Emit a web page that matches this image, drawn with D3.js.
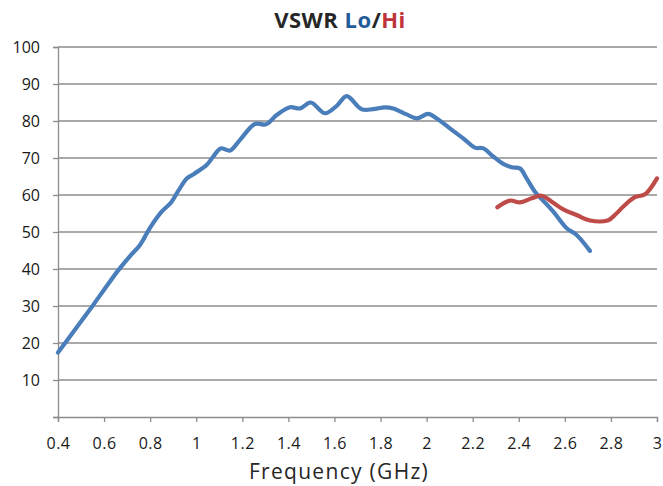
<!DOCTYPE html>
<html>
<head>
<meta charset="utf-8">
<script src="https://cdn.jsdelivr.net/npm/d3@7"></script>
<style>
  body { margin: 0; background: #fff; }
  svg { font-family: "Open Sans", "Noto Sans", sans-serif; }
</style>
</head>
<body>
<div id="chart"></div>
<script>
// VSWR Lo band (blue)
const loFreq = [0.40, 0.475, 0.553, 0.60, 0.662, 0.7125, 0.756, 0.80, 0.85, 0.89, 0.92, 0.96, 0.99,
  1.045, 1.074, 1.106, 1.147, 1.19, 1.255, 1.303, 1.349, 1.407, 1.45, 1.497, 1.559, 1.61, 1.653,
  1.718, 1.768, 1.819, 1.855, 1.913, 1.957, 2.007, 2.044, 2.101, 2.159, 2.21, 2.246, 2.289,
  2.333, 2.369, 2.405, 2.434, 2.47, 2.506, 2.55, 2.608, 2.651, 2.709];
const loVswr = [17.4, 23.7, 30.3, 34.4, 39.7, 43.5, 46.5, 51.2, 55.5, 57.9, 60.9, 64.5, 65.7,
  68.1, 70.4, 72.6, 72.0, 74.9, 79.2, 79.1, 81.6, 83.7, 83.4, 85.0, 82.1, 84.1, 86.7,
  83.2, 83.2, 83.7, 83.4, 81.8, 80.7, 81.9, 80.7, 78.0, 75.3, 72.8, 72.6, 70.4,
  68.4, 67.5, 67.2, 64.5, 60.9, 58.5, 55.5, 51.0, 49.2, 44.9];

// VSWR Hi band (red)
const hiFreq = [2.307, 2.362, 2.405, 2.456, 2.499, 2.543, 2.593, 2.651, 2.709, 2.789, 2.817,
  2.861, 2.904, 2.948, 3.0];
const hiVswr = [56.7, 58.5, 58.0, 59.1, 59.8, 58.2, 56.1, 54.6, 53.1, 53.2, 54.6,
  57.3, 59.4, 60.2, 64.5];

const xTicks = [0.4, 0.6, 0.8, 1, 1.2, 1.4, 1.6, 1.8, 2, 2.2, 2.4, 2.6, 2.8, 3];
const yTicks = [0, 10, 20, 30, 40, 50, 60, 70, 80, 90, 100];

const width = 663, height = 486;
const margin = { top: 47, right: 6, bottom: 69, left: 58 };

const svg = d3.select("#chart")
  .append("svg")
  .attr("width", width)
  .attr("height", height);

const x = d3.scaleLinear()
  .domain([0.4, 3])
  .range([margin.left, width - margin.right]);

const y = d3.scaleLinear()
  .domain([0, 100])
  .range([height - margin.bottom, margin.top]);

// horizontal gridlines
svg.append("g")
  .selectAll("line")
  .data(yTicks.filter(d => d > 0))
  .enter().append("line")
  .attr("x1", margin.left)
  .attr("x2", width - margin.right)
  .attr("y1", d => y(d))
  .attr("y2", d => y(d))
  .attr("stroke", "#8c8c8c")
  .attr("stroke-width", 1.3);

// y axis
const yAxis = svg.append("g")
  .attr("transform", `translate(${margin.left},0)`)
  .call(d3.axisLeft(y).tickValues(yTicks).tickSize(5).tickPadding(13)
    .tickFormat(d => d === 0 ? "" : d));
yAxis.select(".domain").attr("stroke", "#8c8c8c").attr("stroke-width", 1.3);
yAxis.selectAll(".tick line").attr("stroke", "#8c8c8c").attr("stroke-width", 1.3);
yAxis.selectAll("text").attr("font-size", "16px").attr("fill", "#1a1a1a")
  .attr("font-family", "'Open Sans', sans-serif");

// x axis
const xAxis = svg.append("g")
  .attr("transform", `translate(0,${height - margin.bottom})`)
  .call(d3.axisBottom(x).tickValues(xTicks).tickSize(5).tickPadding(16)
    .tickFormat(d => String(d)));
xAxis.select(".domain").attr("stroke", "#8c8c8c").attr("stroke-width", 1.3);
xAxis.selectAll(".tick line").attr("stroke", "#8c8c8c").attr("stroke-width", 1.3);
xAxis.selectAll("text").attr("font-size", "16px").attr("fill", "#1a1a1a")
  .attr("letter-spacing", "0.5px")
  .attr("font-family", "'Open Sans', sans-serif");

// lines
const line = d3.line()
  .x(d => x(d[0]))
  .y(d => y(d[1]))
  .curve(d3.curveCatmullRom.alpha(0.5));

svg.append("path")
  .datum(loFreq.map((f, i) => [f, loVswr[i]]))
  .attr("d", line)
  .attr("fill", "none")
  .attr("stroke", "#4a7ebb")
  .attr("stroke-width", 4.2)
  .attr("stroke-linecap", "round")
  .attr("stroke-linejoin", "round");

svg.append("path")
  .datum(hiFreq.map((f, i) => [f, hiVswr[i]]))
  .attr("d", line)
  .attr("fill", "none")
  .attr("stroke", "#be4b48")
  .attr("stroke-width", 4.2)
  .attr("stroke-linecap", "round")
  .attr("stroke-linejoin", "round");

// axis title
svg.append("text")
  .attr("x", 339)
  .attr("y", 479)
  .attr("text-anchor", "middle")
  .attr("font-size", "21px")
  .attr("letter-spacing", "1.3px")
  .attr("fill", "#262626")
  .text("Frequency (GHz)");

// chart title
const title = svg.append("text")
  .attr("x", 340)
  .attr("y", 28)
  .attr("text-anchor", "middle")
  .attr("font-size", "22px")
  .attr("letter-spacing", "0.5px")
  .attr("font-weight", "bold");
title.append("tspan").attr("fill", "#262626").text("VSWR ");
title.append("tspan").attr("fill", "#1f5c99").text("Lo");
title.append("tspan").attr("fill", "#262626").text("/");
title.append("tspan").attr("fill", "#c0333a").text("Hi");
</script>
</body>
</html>
